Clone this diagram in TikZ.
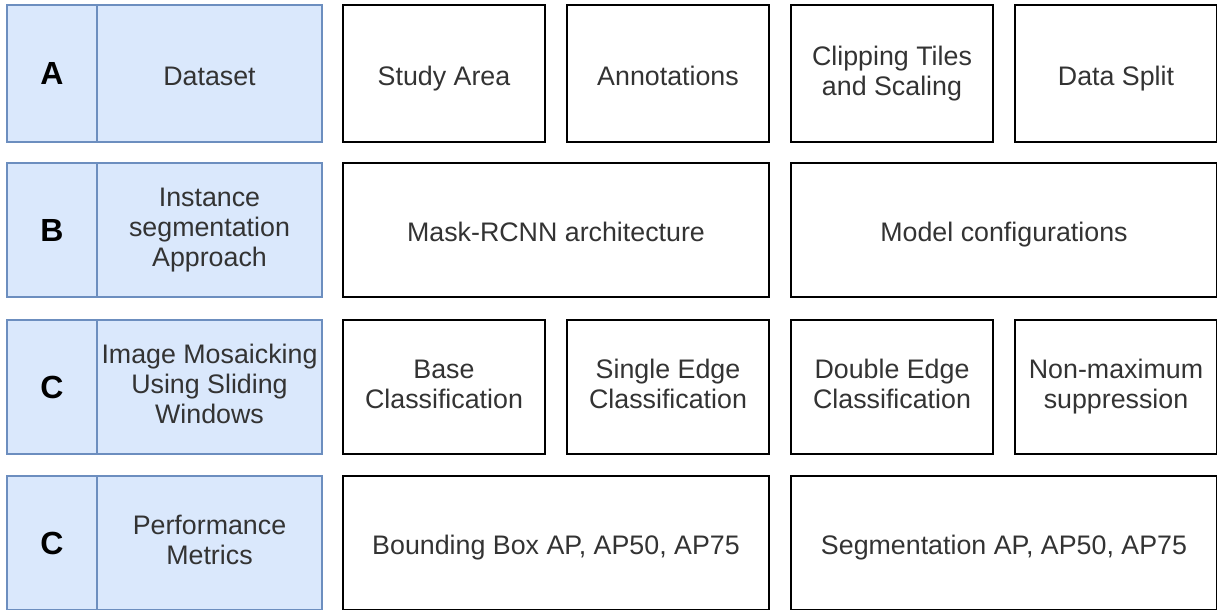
\documentclass[tikz,border=0pt]{standalone}
\usepackage{fontspec}
\setmainfont{Liberation Sans}
\usetikzlibrary{positioning}
\definecolor{stageblue}{HTML}{DAE8FC}
\definecolor{stageedge}{HTML}{6C8EBF}
\definecolor{textgray}{HTML}{333333}
\newcommand{\cellstrut}{\rule[-3.2pt]{0pt}{18.2pt}}

\begin{document}
\begin{tikzpicture}[
        x=1pt, y=1pt,
        node distance=11pt,
        tagbox/.style={draw=stageedge, fill=stageblue, line width=0.75pt,
            minimum width=45pt, minimum height=67pt, outer sep=0pt,
            inner sep=1pt, font=\fontsize{16}{18}\selectfont\bfseries},
        stagebox/.style={tagbox, minimum width=112.5pt, align=center,
            text=textgray, font=\fontsize{13.4}{15}\selectfont,
            execute at begin node=\cellstrut, execute at end node=\cellstrut},
        stepbox/.style={draw=black, line width=1pt, minimum width=101pt,
            minimum height=67pt, outer sep=0pt, inner sep=1pt,
            align=center, text=textgray,
            font=\fontsize{13.4}{15}\selectfont,
            execute at begin node=\cellstrut, execute at end node=\cellstrut},
        widebox/.style={stepbox, minimum width=213pt},
        toprow/.style={minimum height=68.5pt}
    ]

    \useasboundingbox (0,0) rectangle (608.5,-305);

    % A: dataset
    \node[tagbox, toprow, anchor=north west] (tagA) at (3.5,-2.5) {A};
    \node[stagebox, toprow, right=0pt of tagA] (stageA) {Dataset};
    \node[stepbox, toprow, right=10.5pt of stageA] (study) {Study Area};
    \node[stepbox, toprow, right=of study] (annot) {Annotations};
    \node[stepbox, toprow, right=of annot] (tiles) {Clipping Tiles\\and Scaling};
    \node[stepbox, toprow, right=of tiles] (split) {Data Split};

    % B: model
    \node[tagbox, anchor=north west] (tagB) at (3.5,-81.5) {B};
    \node[stagebox, right=0pt of tagB] (stageB) {Instance\\segmentation\\Approach};
    \node[widebox, right=10.5pt of stageB] (arch) {Mask-RCNN architecture};
    \node[widebox, right=of arch] (config) {Model configurations};

    % C: mosaicking
    \node[tagbox, anchor=north west] (tagC) at (3.5,-160) {C};
    \node[stagebox, right=0pt of tagC] (stageC) {Image Mosaicking\\Using Sliding\\Windows};
    \node[stepbox, right=10.5pt of stageC] (base) {Base\\Classification};
    \node[stepbox, right=of base] (single) {Single Edge\\Classification};
    \node[stepbox, right=of single] (double) {Double Edge\\Classification};
    \node[stepbox, right=of double] (nms) {Non-maximum\\suppression};

    % C: metrics
    \node[tagbox, anchor=north west] (tagD) at (3.5,-238) {C};
    \node[stagebox, right=0pt of tagD] (stageD) {Performance\\Metrics};
    \node[widebox, right=10.5pt of stageD] (bbox) {Bounding Box AP, AP50, AP75};
    \node[widebox, right=of bbox] (segm) {Segmentation AP, AP50, AP75};

\end{tikzpicture}
\end{document}
